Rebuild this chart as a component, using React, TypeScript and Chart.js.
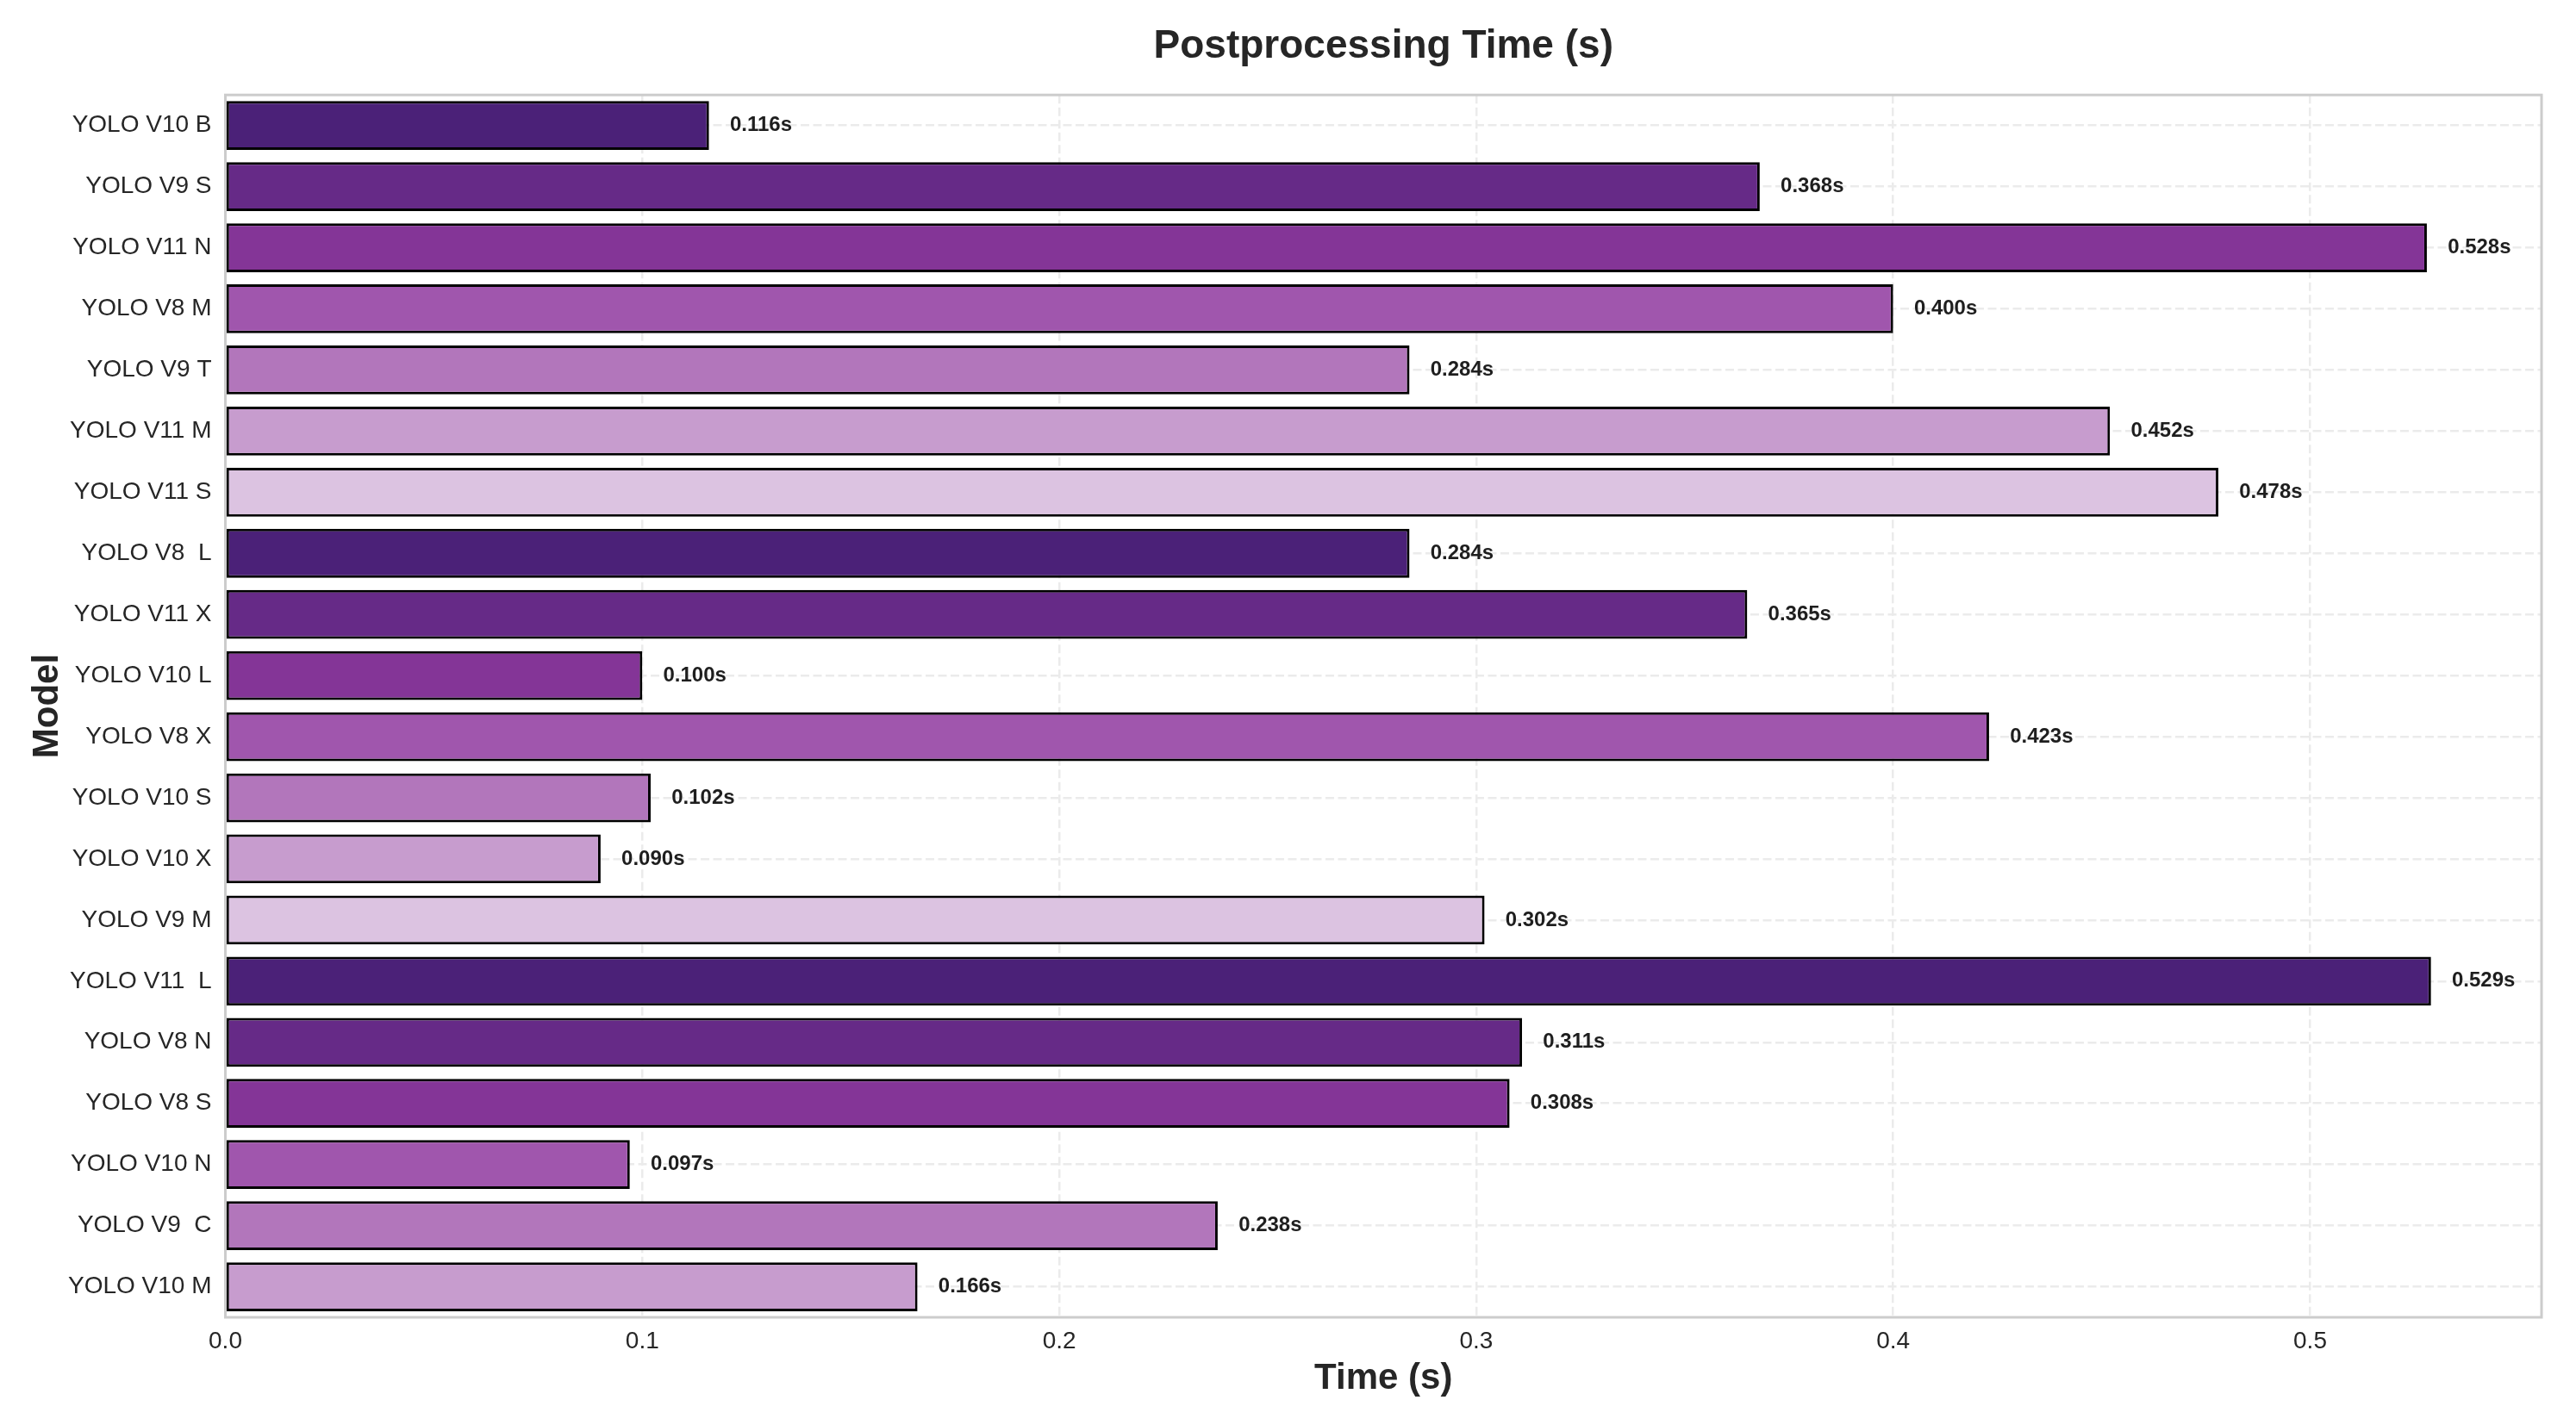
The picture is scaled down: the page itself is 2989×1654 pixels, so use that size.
import React, { useEffect, useRef } from 'react';
import { Chart, registerables } from 'chart.js';

Chart.register(...registerables);

// ---- data ----
const MODELS = [
  'YOLO V10 B', 'YOLO V9 S', 'YOLO V11 N', 'YOLO V8 M', 'YOLO V9 T',
  'YOLO V11 M', 'YOLO V11 S', 'YOLO V8  L', 'YOLO V11 X', 'YOLO V10 L',
  'YOLO V8 X', 'YOLO V10 S', 'YOLO V10 X', 'YOLO V9 M', 'YOLO V11  L',
  'YOLO V8 N', 'YOLO V8 S', 'YOLO V10 N', 'YOLO V9  C', 'YOLO V10 M',
];
const TIMES = [
  0.116, 0.368, 0.528, 0.400, 0.284,
  0.452, 0.478, 0.284, 0.365, 0.100,
  0.423, 0.102, 0.090, 0.302, 0.529,
  0.311, 0.308, 0.097, 0.238, 0.166,
];
const X_MIN = 0;
const X_MAX = 0.5555;
const X_STEP = 0.1;
const TITLE = 'Postprocessing Time (s)';
const X_TITLE = 'Time (s)';
const Y_TITLE = 'Model';

// ---- styles ----
const PALETTE = ['#4b2178', '#662a87', '#843597', '#a056ad', '#b276bb', '#c79cce', '#dcc3e1'];
const FONT = '"Liberation Sans", Arial, Helvetica, sans-serif';
const TEXT = '#262626';
const GRID = '#ebebeb';
const FRAME = '#cccccc';

const W = 2989;
const H = 1654;

const overlayPlugin = {
  id: 'overlay',
  afterDatasetsDraw(chart: any) {
    const { ctx, chartArea, scales } = chart;
    const meta = chart.getDatasetMeta(0);
    ctx.save();
    ctx.font = `bold 24px ${FONT}`;
    ctx.fillStyle = '#1e1e1e';
    ctx.textAlign = 'left';
    ctx.textBaseline = 'middle';
    meta.data.forEach((bar: any, i: number) => {
      const v = TIMES[i];
      const x = scales.x.getPixelForValue(v + 0.005);
      ctx.fillText(`${v.toFixed(3)}s`, x, bar.y);
    });
    ctx.restore();
    // frame
    ctx.save();
    ctx.strokeStyle = FRAME;
    ctx.lineWidth = 3;
    ctx.strokeRect(chartArea.left, chartArea.top, chartArea.right - chartArea.left, chartArea.bottom - chartArea.top);
    ctx.restore();
  },
};

export default function App() {
  const ref = useRef<HTMLCanvasElement | null>(null);
  useEffect(() => {
    document.body.style.margin = '0';
    document.body.style.overflow = 'hidden';
    const canvas = ref.current!;
    const chart = new Chart(canvas, {
      type: 'bar',
      data: {
        labels: MODELS,
        datasets: [
          {
            data: TIMES,
            backgroundColor: TIMES.map((_, i) => PALETTE[i % PALETTE.length]),
            borderColor: '#000000',
            borderWidth: 3,
            borderSkipped: false,
            categoryPercentage: 0.8,
            barPercentage: 1.0,
          },
        ],
      },
      options: {
        indexAxis: 'y',
        animation: false,
        responsive: false,
        maintainAspectRatio: false,
        layout: { padding: { left: 0, right: 40, top: 0, bottom: 0 } },
        plugins: {
          legend: { display: false },
          tooltip: { enabled: false },
          title: {
            display: true,
            text: TITLE,
            fullSize: false,
            color: TEXT,
            font: { family: FONT, size: 46, weight: 'bold', lineHeight: 1.2 },
            padding: { top: 27, bottom: 28 },
          },
        },
        scales: {
          x: {
            type: 'linear',
            min: X_MIN,
            max: X_MAX,
            afterFit: (s: any) => { s.height = 125; },
            ticks: {
              stepSize: X_STEP,
              includeBounds: false,
              padding: 11,
              color: TEXT,
              font: { family: FONT, size: 28, lineHeight: 1.2 },
              callback: (v: any) => Number(v).toFixed(1),
            },
            grid: { color: GRID, lineWidth: 2.5, drawTicks: false, borderDash: [10, 4.5] } as any,
            border: { display: false, dash: [10, 4.5] },
            title: {
              display: true,
              text: X_TITLE,
              color: TEXT,
              font: { family: FONT, size: 42, weight: 'bold', lineHeight: 1.2 },
              padding: { top: 0, bottom: 28 },
            },
          },
          y: {
            type: 'category',
            offset: true,
            afterFit: (s: any) => { s.width = 261.5; },
            ticks: {
              padding: 16,
              color: TEXT,
              font: { family: FONT, size: 28, lineHeight: 1.2 },
              autoSkip: false,
            },
            grid: { color: GRID, lineWidth: 2.5, drawTicks: false, offset: false, borderDash: [10, 4.5] } as any,
            border: { display: false, dash: [10, 4.5] },
            title: {
              display: true,
              text: Y_TITLE,
              color: TEXT,
              font: { family: FONT, size: 42, weight: 'bold', lineHeight: 1.2 },
              padding: { top: 30, bottom: 0 },
            },
          },
        },
      },
      plugins: [overlayPlugin],
    } as any);
    return () => chart.destroy();
  }, []);
  return (
    <div style={{ width: W, height: H, background: '#ffffff' }}>
      <canvas ref={ref} width={W} height={H} style={{ width: W, height: H, display: 'block' }} />
    </div>
  );
}
